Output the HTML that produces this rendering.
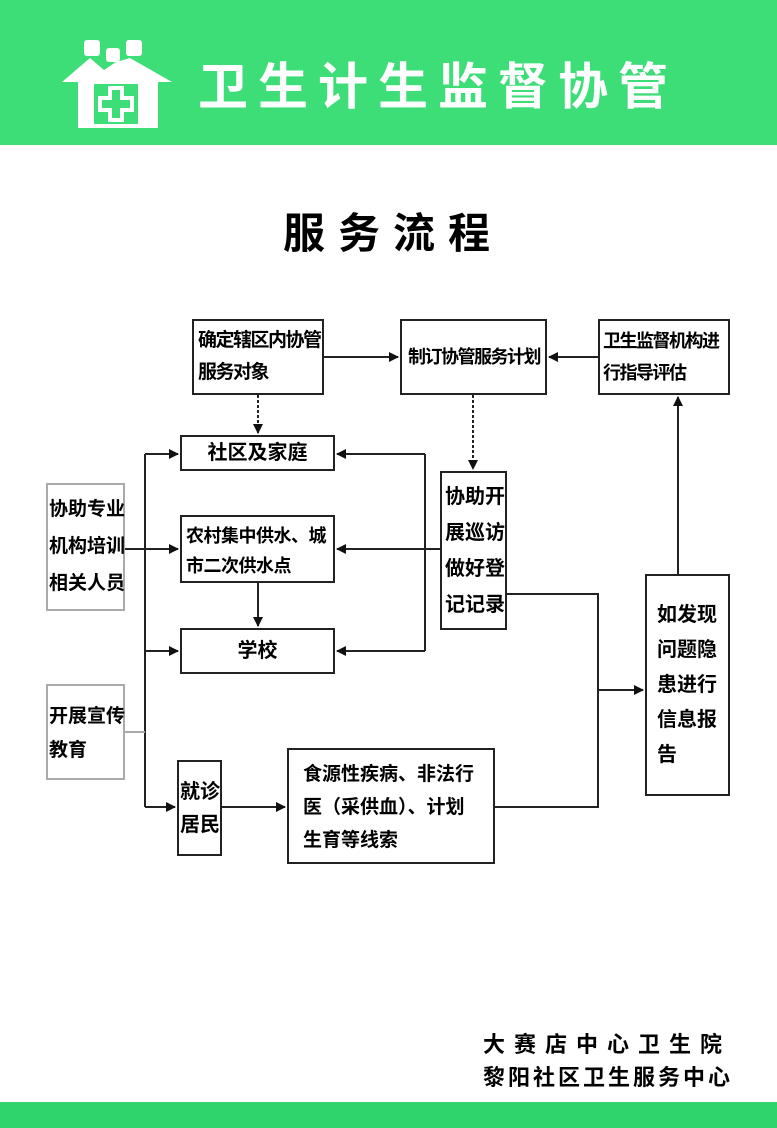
<!DOCTYPE html>
<html><head><meta charset="utf-8"><style>
body{margin:0;width:777px;height:1128px;position:relative;background:#fff;font-family:"Liberation Sans","Noto Sans CJK SC",sans-serif;overflow:hidden}
.hdr{position:absolute;left:0;top:0;width:777px;height:145px;background:#3ddd78}
.ftr{position:absolute;left:0;top:1102px;width:777px;height:26px;background:#2fd56c}
.t{position:absolute;font-weight:bold;color:#000;white-space:nowrap}
.b{position:absolute;border:2px solid #222;box-sizing:border-box;font-weight:bold;font-size:19px;line-height:28px;color:#000;background:#fff;white-space:nowrap;overflow:visible}
.g{border-color:#aaa}
</style></head><body>
<div class="hdr"></div>
<svg style="position:absolute;left:60px;top:38px" width="115" height="92" viewBox="0 0 115 92">
<g fill="#fff">
<rect x="24" y="2" width="16" height="16" rx="3"/><rect x="46" y="10" width="14" height="14" rx="3"/><rect x="66" y="2" width="16" height="16" rx="3"/>
<path d="M2 44 L30 20 L44 32 L56 24 L70 20 L112 44 L98 44 L98 90 L18 90 L18 44 Z"/>
</g>
<rect x="34" y="46" width="44" height="40" fill="#3ddd78"/>
<path d="M50 50h12v10h10v12h-10v10h-12v-10h-10v-12h10z" fill="none" stroke="#fff" stroke-width="4"/>
</svg>
<div class="t" style="left:198px;top:54px;font-size:50px;color:#fff;letter-spacing:10px;line-height:66px">卫生计生监督协管</div>
<div class="t" style="left:283px;top:208px;font-size:42px;letter-spacing:13px;line-height:52px">服务流程</div>

<svg style="position:absolute;left:0;top:0" width="777" height="1128">
<defs><marker id="a" markerWidth="10" markerHeight="10" refX="9" refY="5" orient="auto" markerUnits="userSpaceOnUse"><path d="M0 0L10 5L0 10z" fill="#111"/></marker></defs>
<g stroke="#222" stroke-width="2" fill="none">
<line x1="324" y1="357" x2="398" y2="357" marker-end="url(#a)"/>
<line x1="598" y1="357" x2="549" y2="357" marker-end="url(#a)"/>
<line x1="258" y1="395" x2="258" y2="433" stroke-dasharray="3,2" marker-end="url(#a)"/>
<line x1="473" y1="395" x2="473" y2="469" stroke-dasharray="3,2" marker-end="url(#a)"/>
<line x1="125" y1="549" x2="145" y2="549"/>
<line x1="145" y1="454" x2="145" y2="807"/>
<line x1="145" y1="454" x2="178" y2="454" marker-end="url(#a)"/>
<line x1="145" y1="549" x2="178" y2="549" marker-end="url(#a)"/>
<line x1="145" y1="651" x2="178" y2="651" marker-end="url(#a)"/>
<line x1="145" y1="807" x2="175" y2="807" marker-end="url(#a)"/>
<line x1="125" y1="732" x2="145" y2="732" stroke="#aaa"/>
<line x1="425" y1="454" x2="425" y2="651"/>
<line x1="425" y1="454" x2="337" y2="454" marker-end="url(#a)"/>
<line x1="440" y1="549" x2="337" y2="549" marker-end="url(#a)"/>
<line x1="425" y1="651" x2="337" y2="651" marker-end="url(#a)"/>
<line x1="258" y1="583" x2="258" y2="626" marker-end="url(#a)"/>
<line x1="222" y1="807" x2="285" y2="807" marker-end="url(#a)"/>
<polyline points="507,594 598,594 598,807 495,807"/>
<line x1="598" y1="690" x2="643" y2="690" marker-end="url(#a)"/>
<line x1="678" y1="574" x2="678" y2="397" marker-end="url(#a)"/>
</g></svg>

<div class="b" style="left:192px;top:319px;width:132px;height:76px;padding:4px 4px;font-size:19px;line-height:32px;letter-spacing:-1.5px">确定辖区内协管<br>服务对象</div>
<div class="b" style="left:400px;top:319px;width:147px;height:76px;padding:22px 6px;font-size:18px;letter-spacing:-1.5px">制订协管服务计划</div>
<div class="b" style="left:598px;top:319px;width:132px;height:76px;padding:4px 3px;font-size:18px;line-height:32px;letter-spacing:-1.5px">卫生监督机构进<br>行指导评估</div>
<div class="b" style="left:180px;top:435px;width:155px;height:36px;padding:2px 0;text-align:center;font-size:20px">社区及家庭</div>
<div class="b" style="left:180px;top:515px;width:155px;height:68px;padding:4px 4px;font-size:18px;line-height:30px;letter-spacing:-0.5px">农村集中供水、城<br>市二次供水点</div>
<div class="b" style="left:180px;top:628px;width:155px;height:46px;padding:7px 0;text-align:center;font-size:20px">学校</div>
<div class="b" style="left:440px;top:471px;width:67px;height:159px;padding:6px 2px 0 3px;font-size:20px;line-height:36px">协助开<br>展巡访<br>做好登<br>记记录</div>
<div class="b g" style="left:46px;top:483px;width:79px;height:128px;padding:6px 1px;font-size:19px;line-height:37px">协助专业<br>机构培训<br>相关人员</div>
<div class="b g" style="left:46px;top:684px;width:79px;height:96px;padding:14px 1px;font-size:19px;line-height:34px">开展宣传<br>教育</div>
<div class="b" style="left:177px;top:760px;width:45px;height:96px;padding:14px 1px;font-size:20px;line-height:33px">就诊<br>居民</div>
<div class="b" style="left:287px;top:748px;width:208px;height:116px;padding:8px 14px;font-size:19px;line-height:33px">食源性疾病、非法行<br>医（采供血）、计划<br>生育等线索</div>
<div class="b" style="left:645px;top:574px;width:85px;height:222px;padding:22px 10px;font-size:20px;line-height:35px">如发现<br>问题隐<br>患进行<br>信息报<br>告</div>

<div class="t" style="left:483px;top:1029px;font-size:22px;letter-spacing:9px;line-height:32px">大赛店中心卫生院</div>
<div class="t" style="left:483px;top:1062px;font-size:22px;letter-spacing:3px;line-height:32px">黎阳社区卫生服务中心</div>
<div class="ftr"></div>
</body></html>
